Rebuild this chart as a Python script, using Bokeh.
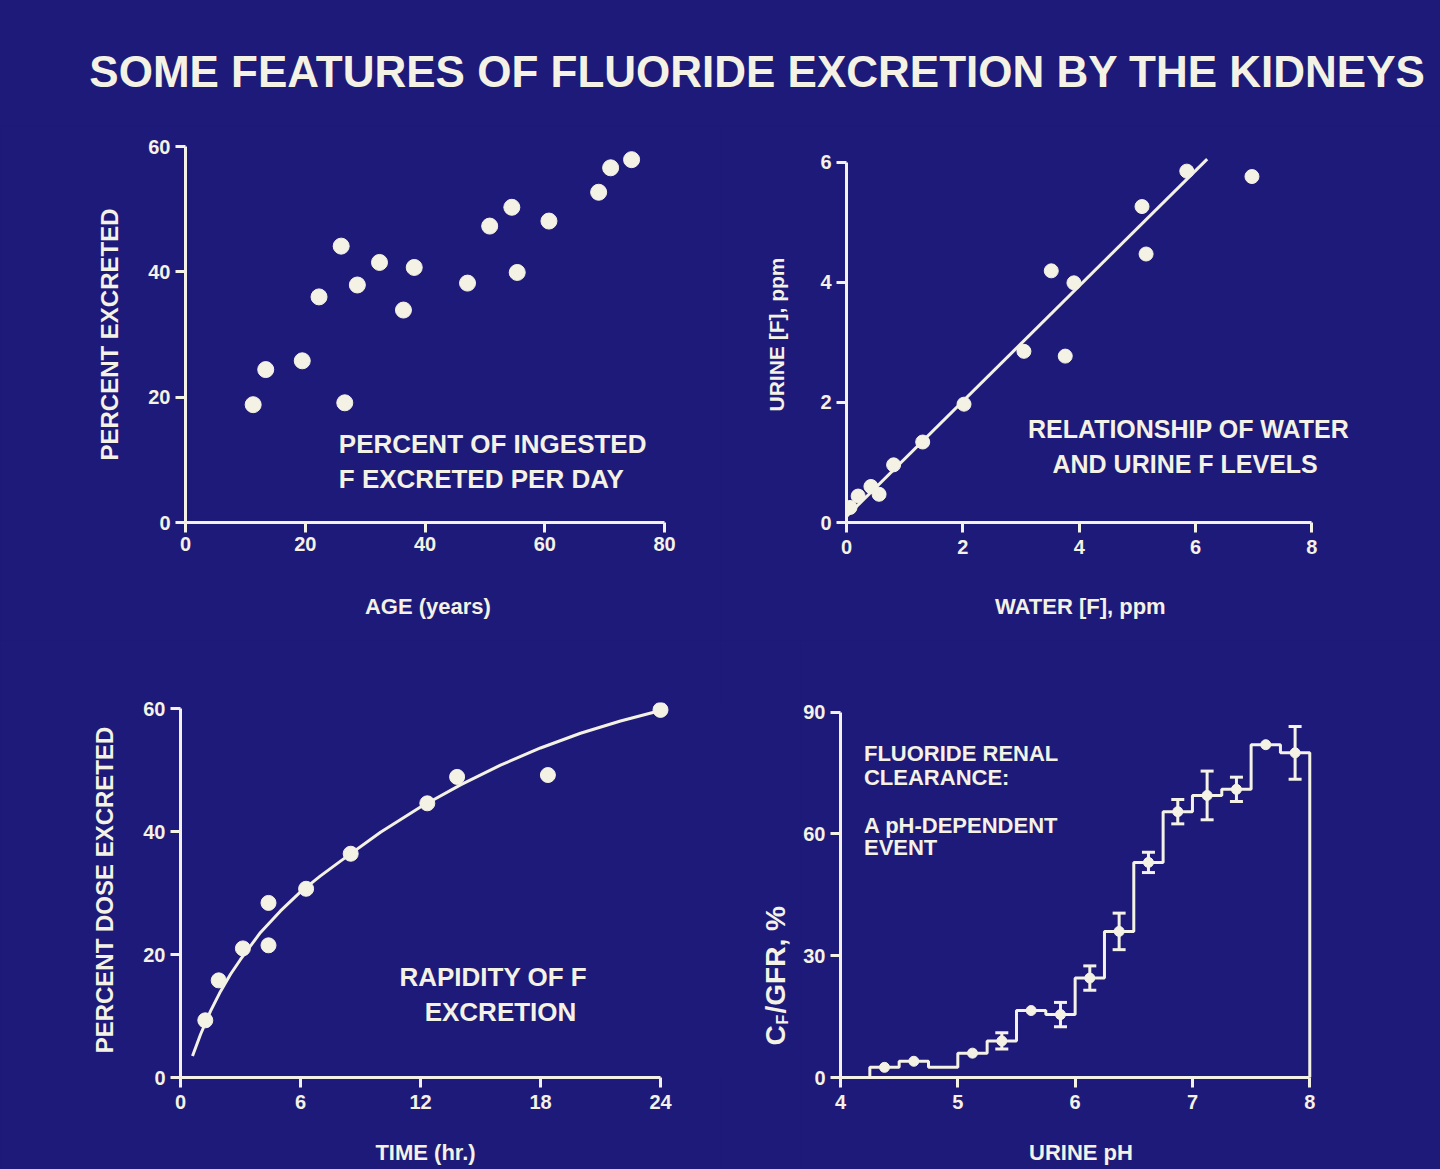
import math
from bokeh.plotting import figure
from bokeh.layouts import column, row
from bokeh.models import Range1d, Label, FixedTicker
from bokeh.embed import file_html
from bokeh.resources import INLINE

BG = "#1e1a7a"
FG = "#f4f2e4"
FONT = "Liberation Sans"
NB = "\u00a0"

TITLE = "SOME FEATURES OF FLUORIDE EXCRETION BY THE KIDNEYS"

# ---- Panel 1: percent of ingested F excreted vs age ----
age_years = [11.3, 13.4, 19.5, 22.3, 26.0, 26.6, 28.7, 32.4, 36.4, 38.2,
             47.1, 50.8, 54.5, 55.4, 60.7, 69.0, 71.0, 74.5]
pct_excreted = [18.8, 24.4, 25.8, 36.0, 44.1, 19.1, 37.9, 41.5, 33.9, 40.7,
                38.2, 47.3, 50.3, 39.9, 48.1, 52.7, 56.6, 57.9]
p1_xticks = [0, 20, 40, 60, 80]
p1_yticks = [0, 20, 40, 60]

# ---- Panel 2: water vs urine F ----
water_f = [0.06, 0.20, 0.42, 0.56, 0.81, 1.31, 2.02, 3.05, 3.52, 3.76,
           3.91, 5.08, 5.15, 5.85, 6.97]
urine_f = [0.25, 0.44, 0.60, 0.47, 0.96, 1.34, 1.97, 2.85, 4.19, 2.77,
           3.99, 5.26, 4.47, 5.85, 5.76]
fit_water = [0.0, 6.2]
fit_urine = [0.1, 6.05]
p2_xticks = [0, 2, 4, 6, 8]
p2_yticks = [0, 2, 4, 6]

# ---- Panel 3: percent dose excreted vs time ----
time_hr = [1.24, 1.91, 3.12, 4.4, 4.4, 6.28, 8.51, 12.34, 13.83, 18.37, 24.0]
dose_pct = [9.3, 15.8, 21.0, 28.4, 21.5, 30.7, 36.4, 44.6, 48.9, 49.2, 59.8]
curve_t = [0.6, 1.0, 1.5, 2.0, 2.5, 3.0, 4.0, 5.0, 6.0, 7.0, 8.0, 10.0,
           12.0, 14.0, 16.0, 18.0, 20.0, 22.0, 24.0]
curve_p = [3.5, 7.0, 10.8, 14.0, 16.8, 19.2, 23.6, 27.1, 30.2, 32.8, 35.2,
           39.9, 44.0, 47.6, 50.8, 53.6, 56.0, 58.0, 59.7]
p3_xticks = [0, 6, 12, 18, 24]
p3_yticks = [0, 20, 40, 60]

# ---- Panel 4: renal clearance vs urine pH ----
ph_edges = [4.25, 4.5, 4.75, 5.0, 5.25, 5.5, 5.75, 6.0, 6.25, 6.5, 6.75,
            7.0, 7.25, 7.5, 7.75, 8.0]
clear_val = [2.5, 4.0, 2.5, 6.0, 9.0, 16.5, 15.5, 24.5, 36.0, 53.0, 65.5,
             69.5, 71.0, 82.0, 80.0]
clear_err = [0, 0, 0, 0, 2.0, 0, 3.0, 3.0, 4.5, 2.5, 3.0, 6.0, 3.0, 0, 6.5]
clear_point = [True, True, False, True, True, True, True, True, True, True,
               True, True, True, True, True]
p4_xticks = [4, 5, 6, 7, 8]
p4_yticks = [0, 30, 60, 90]


def style_axes(p, xticks, yticks, xlabel, ylabel, xl_size, yl_size,
               x_tick_stand, x_lab_stand, y_lab_stand):
    p.xaxis.ticker = FixedTicker(ticks=xticks)
    p.yaxis.ticker = FixedTicker(ticks=yticks)
    for ax in (p.xaxis[0], p.yaxis[0]):
        ax.axis_line_color = FG
        ax.axis_line_width = 3
        ax.major_tick_line_color = FG
        ax.major_tick_line_width = 3
        ax.major_tick_out = 10
        ax.major_tick_in = 0
        ax.minor_tick_line_color = None
        ax.major_label_text_color = FG
        ax.major_label_text_font = FONT
        ax.major_label_text_font_style = "bold"
        ax.major_label_text_font_size = "20px"
        ax.axis_label_text_color = FG
        ax.axis_label_text_font = FONT
        ax.axis_label_text_font_style = "bold"
    p.xaxis.axis_label = xlabel
    p.xaxis.axis_label_text_font_size = xl_size
    p.xaxis.major_label_standoff = x_tick_stand
    p.xaxis.axis_label_standoff = x_lab_stand
    if ylabel is not None:
        p.yaxis.axis_label = ylabel
        p.yaxis.axis_label_text_font_size = yl_size
        p.yaxis.axis_label_standoff = y_lab_stand
    p.yaxis.major_label_standoff = 5
    p.xgrid.grid_line_color = None
    p.ygrid.grid_line_color = None


def make_fig(width, height, xr, yr, left, right, top, bottom):
    p = figure(width=width, height=height, x_range=Range1d(*xr),
               y_range=Range1d(*yr), output_backend="svg",
               toolbar_location=None, title=None,
               min_border_left=left, min_border_right=right,
               min_border_top=top, min_border_bottom=bottom)
    p.background_fill_color = BG
    p.border_fill_color = BG
    p.outline_line_color = None
    return p


def blank_fig(width, height, yr, top=0, bottom=0):
    p = figure(width=width, height=height, x_range=Range1d(0, width),
               y_range=Range1d(*yr), output_backend="svg",
               toolbar_location=None, title=None, x_axis_type=None,
               y_axis_type=None, min_border_left=0, min_border_right=0,
               min_border_top=top, min_border_bottom=bottom)
    p.background_fill_color = BG
    p.border_fill_color = BG
    p.outline_line_color = None
    p.xgrid.grid_line_color = None
    p.ygrid.grid_line_color = None
    return p


def add_text(p, x, y, text, size, align="left", angle=0.0):
    p.add_layout(Label(x=x, y=y, text=text, text_color=FG, text_font=FONT,
                       text_font_style="bold", text_font_size=size,
                       text_align=align, text_baseline="middle",
                       angle=angle))


# ---------- title ----------
tfig = blank_fig(1440, 125, (0, 125))
add_text(tfig, 757, 54.5, TITLE, "44px", "center")

# ---------- row 1: frames span page y 146..522 ----------
p1 = make_fig(720, 515, (0, 82), (0, 60), 185, 44, 21, 118)
style_axes(p1, p1_xticks, p1_yticks, "AGE (years)" + NB, "PERCENT EXCRETED",
           "22px", "24px", 4, 40, 22)
p1.xaxis.bounds = (0, 80)
p1.scatter(age_years, pct_excreted, size=16, color=FG)
add_text(p1, 25.6, 12.5, "PERCENT  OF  INGESTED", "26px")
add_text(p1, 25.6, 6.9, "F  EXCRETED  PER  DAY", "26px")

p2 = make_fig(720, 515, (0, 9.3), (0, 6.26), 126, 53, 21, 118)
style_axes(p2, p2_xticks, p2_yticks, "WATER [F], ppm" + NB * 12,
           "URINE [F], ppm", "22px", "21px", 7, 37, 29)
p2.xaxis.bounds = (0, 8)
p2.yaxis.bounds = (0, 6)
p2.line(fit_water, fit_urine, line_width=3, color=FG)
p2.scatter(water_f, urine_f, size=14, color=FG)
add_text(p2, 6.0, 1.55, "RELATIONSHIP  OF  WATER", "25px", "center")
add_text(p2, 6.0, 0.98, "AND  URINE  F  LEVELS", "25px", "center")

# ---------- row 2: frames span page y 702..1077 ----------
p3 = make_fig(720, 529, (0, 24.5), (0, 61), 180, 50, 62, 92)
style_axes(p3, p3_xticks, p3_yticks, "TIME (hr.)", "PERCENT DOSE EXCRETED",
           "22px", "24px", 7, 28, 22)
p3.xaxis.bounds = (0, 24)
p3.yaxis.bounds = (0, 60)
p3.line(curve_t, curve_p, line_width=3, color=FG)
p3.scatter(time_hr, dose_pct, size=15, color=FG)
add_text(p3, 16.0, 16.4, "RAPIDITY  OF  F", "26px", "center")
add_text(p3, 16.0, 10.7, "EXCRETION", "26px", "center")

# y-axis label strip for panel 4 (data y = page y measured from bottom)
lfig = blank_fig(80, 529, (92, 467), 62, 92)
add_text(lfig, 55, 124, "C", "28px", "left", math.pi / 2)
add_text(lfig, 62, 145, "F", "16px", "left", math.pi / 2)
add_text(lfig, 55, 156, "/GFR, %", "28px", "left", math.pi / 2)

p4 = make_fig(640, 529, (4, 8.1), (0, 92.4), 39, 119, 62, 92)
style_axes(p4, p4_xticks, p4_yticks, "URINE pH", None,
           "22px", "24px", 7, 28, 15)
p4.xaxis.bounds = (4, 8)
p4.yaxis.bounds = (0, 90)
step_x = [ph_edges[0]]
step_y = [0]
for i, v in enumerate(clear_val):
    step_x += [ph_edges[i], ph_edges[i + 1]]
    step_y += [v, v]
step_x.append(ph_edges[-1])
step_y.append(0)
p4.line(step_x, step_y, line_width=3, color=FG)
centers = [(ph_edges[i] + ph_edges[i + 1]) / 2 for i in range(len(clear_val))]
pt_x = [c for c, f in zip(centers, clear_point) if f]
pt_y = [v for v, f in zip(clear_val, clear_point) if f]
p4.scatter(pt_x, pt_y, size=10, color=FG)
eb_x = [c for c, e in zip(centers, clear_err) if e > 0]
eb_lo = [v - e for v, e in zip(clear_val, clear_err) if e > 0]
eb_hi = [v + e for v, e in zip(clear_val, clear_err) if e > 0]
p4.segment(eb_x, eb_lo, eb_x, eb_hi, line_width=3, color=FG)
p4.scatter(eb_x + eb_x, eb_lo + eb_hi, marker="dash", size=13,
           line_width=3, color=FG)
add_text(p4, 4.2, 79.8, "FLUORIDE RENAL", "22px")
add_text(p4, 4.2, 73.9, "CLEARANCE:", "22px")
add_text(p4, 4.2, 62.0, "A pH-DEPENDENT", "22px")
add_text(p4, 4.2, 56.7, "EVENT", "22px")

layout = column(tfig, row(p1, p2), row(p3, lfig, p4))

html = file_html(layout, INLINE, "Fluoride excretion")
style = ("<style>html,body{margin:0;padding:0;background:%s;"
         "overflow:hidden;}</style>" % BG)
html = html.replace("</head>", style + "</head>", 1)
open("out.html", "w").write(html)
